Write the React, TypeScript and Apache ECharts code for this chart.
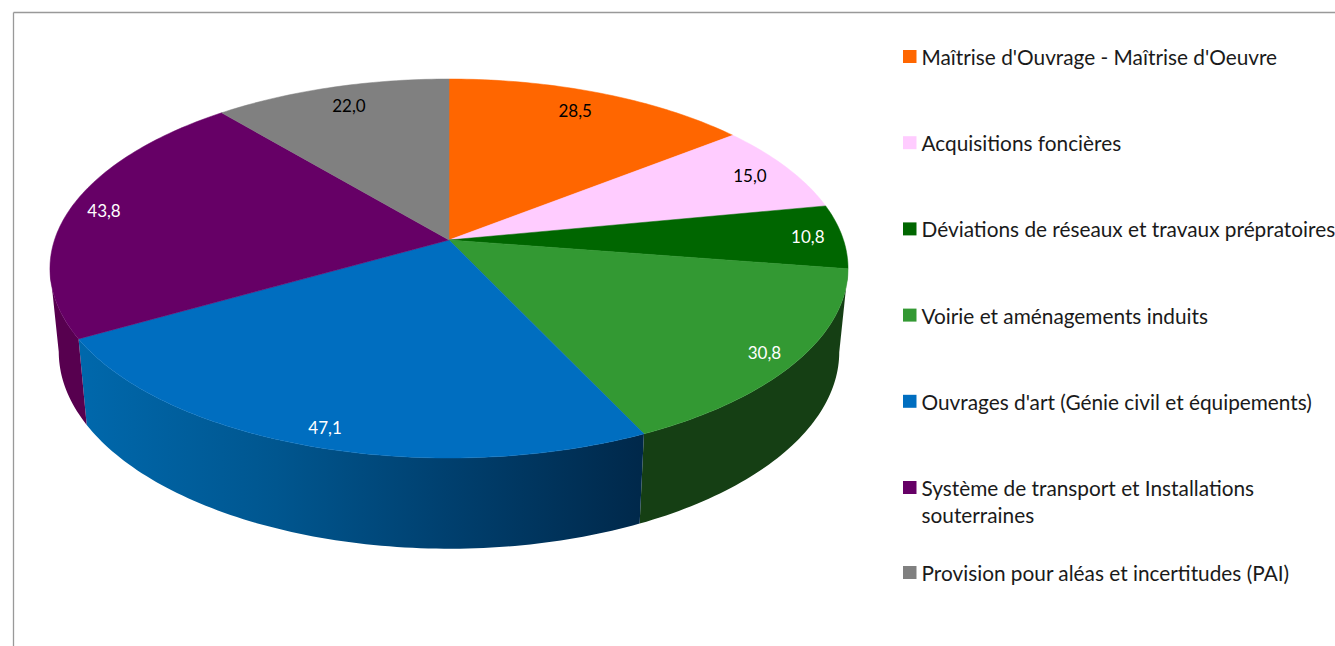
import React, { useEffect, useRef } from "react";
import * as echarts from "echarts";

const categories = [
  "Maîtrise d'Ouvrage - Maîtrise d'Oeuvre",
  "Acquisitions foncières",
  "Déviations de réseaux et travaux prépratoires",
  "Voirie et aménagements induits",
  "Ouvrages d'art (Génie civil et équipements)",
  "Système de transport et Installations souterraines",
  "Provision pour aléas et incertitudes (PAI)",
];
const values = [28.5, 15.0, 10.8, 30.8, 47.1, 43.8, 22.0];
const topColors = ["#FF6600", "#FFCCFF", "#006600", "#339933", "#006EC0", "#660066", "#808080"];
const labelColors = ["#000000", "#000000", "#ffffff", "#ffffff", "#ffffff", "#ffffff", "#000000"];
const labelReach = [0.858, 0.885, 0.912, 0.92, 0.92, 0.91, 0.861];
const labelTurn = [-1.3, 0, 0, 0.5, -0.3, 0, 0.7];
const FONT = "Lato";
const LEGEND_SIZE = 20.8;

const total = values.reduce((a, b) => a + b, 0);
const starts: number[] = [];
values.reduce((acc, v, i) => ((starts[i] = acc), acc + v), 0);

// perspective disc projection
const CX = 449, CY = 240, A = 394.5, B = 185.2, P = 0.1504;
const project = (theta: number, r = 1) => {
  const s = Math.sin(theta), c = Math.cos(theta);
  const d = 1 + P * r * c;
  return [CX + (A * r * s) / d, CY - (B * r * c) / d];
};
const toBottom = (pt: number[]) => [CX + (pt[0] - CX) * 0.978, 322 + (pt[1] - CY) * 1.04];
const visibleFrom = Math.acos(-P);
const visibleTo = 2 * Math.PI - Math.acos(-P);

const arcPoints = (a: number, b: number) => {
  const n = Math.max(2, Math.ceil(((b - a) * 180) / Math.PI));
  const out: number[][] = [];
  for (let k = 0; k <= n; k++) out.push(project(a + ((b - a) * k) / n));
  return out;
};

const wallFill = (i: number): any => {
  if (i === 3) return "#153F14";
  if (i === 4)
    return {
      type: "linear", x: 0, y: 0, x2: 1, y2: 0,
      colorStops: [
        { offset: 0, color: "#0068AC" },
        { offset: 0.35, color: "#00568F" },
        { offset: 0.65, color: "#00406F" },
        { offset: 1, color: "#00284A" },
      ],
    };
  return "#57004F";
};

const renderSlice = (i: number) => (_params: any, api: any) => {
  const t0 = (starts[i] / total) * 2 * Math.PI;
  const t1 = t0 + (api.value(0) / total) * 2 * Math.PI;
  const children: any[] = [];
  const wa = Math.max(t0, visibleFrom), wb = Math.min(t1, visibleTo);
  if (wb > wa) {
    const rim = arcPoints(wa, wb);
    children.push({
      type: "polygon",
      shape: { points: [...rim, ...rim.slice().reverse().map(toBottom)] },
      style: { fill: wallFill(i) },
    });
  }
  children.push({
    type: "polygon",
    shape: { points: [[CX, CY], ...arcPoints(t0, t1)] },
    style: { fill: topColors[i], stroke: topColors[i], lineWidth: 0.5 },
  });
  const pos = project((t0 + t1) / 2 + (labelTurn[i] * Math.PI) / 180, labelReach[i]);
  children.push({
    type: "text",
    x: pos[0], y: pos[1], z2: 10,
    style: {
      text: values[i].toFixed(1).replace(".", ","),
      fill: labelColors[i], font: `17px ${FONT}`, align: "center", verticalAlign: "middle",
    },
  });
  return { type: "group", children };
};

export default function App() {
  const ref = useRef<HTMLDivElement>(null);
  useEffect(() => {
    document.body.style.margin = "0";
    const chart = echarts.init(ref.current!, undefined, { renderer: "svg" });
    const legendBase = {
      orient: "vertical", left: 903, icon: "rect", itemWidth: 13.5, itemHeight: 13,
      selectedMode: false, padding: 0,
      textStyle: { fontFamily: FONT, fontSize: LEGEND_SIZE, color: "#1a1a1a" },
    };
    chart.setOption({
      animation: false,
      backgroundColor: "#ffffff",
      tooltip: { show: false },
      legend: [
        {
          ...legendBase, top: 46, itemGap: 65.2, data: categories.slice(0, 6),
          formatter: (n: string) => n.replace(" souterraines", ""),
        },
        { ...legendBase, top: 562, data: categories.slice(6) },
      ],
      graphic: [
        { type: "line", shape: { x1: 13.5, y1: 12.5, x2: 1335, y2: 12.5 }, style: { stroke: "#999999", lineWidth: 1.3 } },
        { type: "line", shape: { x1: 13.5, y1: 12.5, x2: 13.5, y2: 646 }, style: { stroke: "#999999", lineWidth: 1.3 } },
        {
          type: "text", x: 921.5, y: 514,
          style: { text: "souterraines", fill: "#1a1a1a", font: `${LEGEND_SIZE}px ${FONT}`, verticalAlign: "middle" },
        },
      ],
      series: categories.map((name, i) => ({
        type: "custom",
        name,
        coordinateSystem: "none",
        itemStyle: { color: topColors[i] },
        data: [[values[i]]],
        renderItem: renderSlice(i),
      })),
    });
    return () => chart.dispose();
  }, []);
  return <div ref={ref} style={{ width: 1335, height: 646 }} />;
}
